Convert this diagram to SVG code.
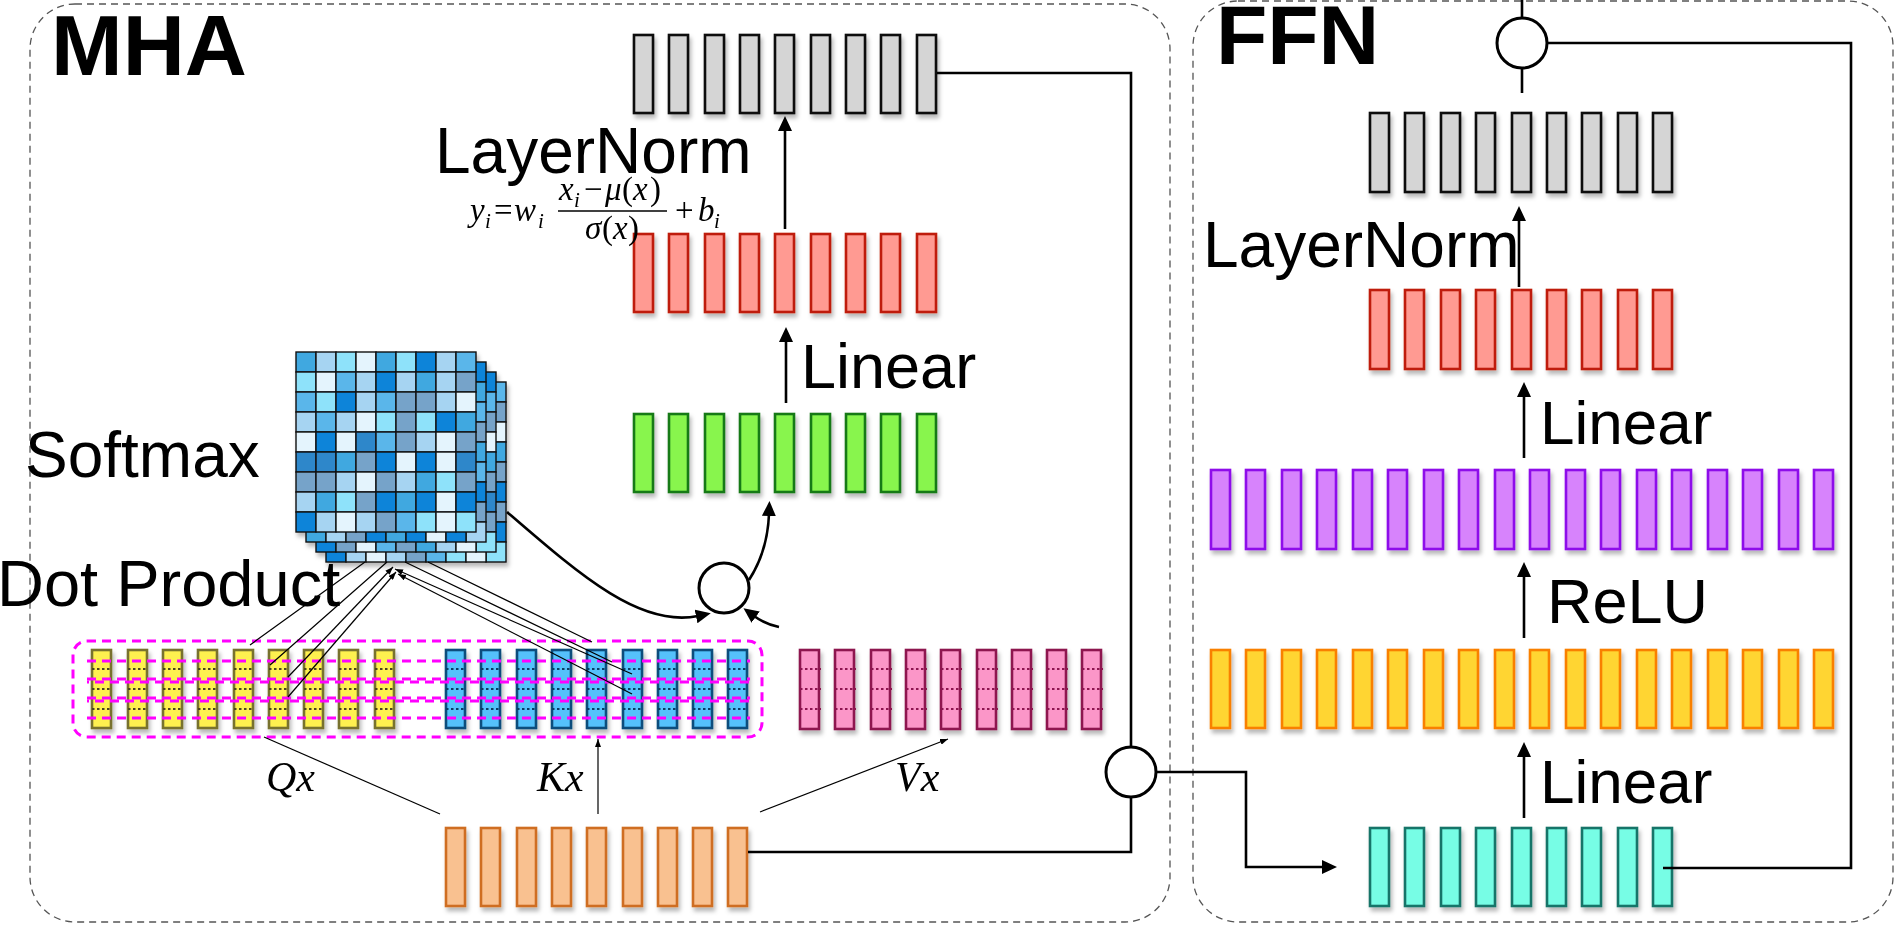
<svg xmlns="http://www.w3.org/2000/svg" xmlns:xlink="http://www.w3.org/1999/xlink" width="1895" height="926" viewBox="0 0 1895 926">
<style>
.box{fill:none;stroke:#555;stroke-width:1.3;stroke-dasharray:7 5}
.lbl{font-family:"Liberation Sans",Arial,sans-serif;fill:#000}
.big{font-family:"Liberation Sans",Arial,sans-serif;font-weight:bold;fill:#000}
.mth{font-family:"Liberation Serif","Times New Roman",serif;font-style:italic;fill:#000;font-size:33px}
.sub{font-size:21px}
.up{font-style:normal}
.bar rect{stroke-width:2.6}
.gray rect{fill:#D5D5D5;stroke:#111}
.red rect{fill:#FF9A92;stroke:#BF1E0B}
.green rect{fill:#88F54E;stroke:#147A14}
.qy rect{fill:#FEF04F;stroke:#78722E}
.kb rect{fill:#55C1FB;stroke:#0C4E7C}
.vp rect{fill:#FB96C8;stroke:#8E1550}
.org rect{fill:#F9C190;stroke:#CF6E24}
.teal rect{fill:#77FDE5;stroke:#197469}
.pur rect{fill:#D783FC;stroke:#8E0FEA}
.amb rect{fill:#FFD530;stroke:#F98000}
.dots{fill:none;stroke-width:2.2;stroke-dasharray:2.5 2.5}
.mag{fill:none;stroke:#FF00FF;stroke-width:3;stroke-dasharray:9 6}
.ln{fill:none;stroke:#000;stroke-width:2.6}
.thin{fill:none;stroke:#000;stroke-width:1.2}
.circ{fill:#fff;stroke:#000;stroke-width:3}
.A{fill:#0A84D9}.B{fill:#3FA8E0}.C{fill:#5AB6EA}.D{fill:#8EE2FA}.E{fill:#A6D4F2}.F{fill:#E4F4FD}.G{fill:#76A3C9}.H{fill:#2E87CA}
.mx use{stroke:#111;stroke-width:1.4}
</style>
<defs>
<filter id="sh" x="-10%" y="-10%" width="130%" height="130%"><feDropShadow dx="2" dy="4" stdDeviation="2.2" flood-color="#000" flood-opacity="0.28"/></filter>
<marker id="ah" viewBox="0 0 15 14" refX="2" refY="7" markerWidth="15" markerHeight="14" markerUnits="userSpaceOnUse" orient="auto"><path d="M0,0 L15,7 L0,14 z" fill="#000"/></marker>
<marker id="sa" viewBox="0 0 8 6" refX="8" refY="3" markerWidth="8" markerHeight="6" markerUnits="userSpaceOnUse" orient="auto"><path d="M0,0 L8,3 L0,6 z" fill="#000"/></marker>
<rect id="cell" width="20" height="20"/>
</defs>

<g id="mha-box"><rect class="box" x="30" y="4" width="1140" height="918" rx="45"/></g>
<g id="ffn-box"><rect class="box" x="1193" y="1" width="700" height="921" rx="45"/></g>

<g id="titles">
<text class="big" x="51" y="75" font-size="86">MHA</text>
<text class="big" x="1216" y="64" font-size="84">FFN</text>
</g>

<!-- MHA vector rows -->
<g id="mha-out" class="bar gray" filter="url(#sh)">
<rect x="634" y="35" width="19" height="78"/><rect x="669" y="35" width="19" height="78"/><rect x="705" y="35" width="19" height="78"/><rect x="740" y="35" width="19" height="78"/><rect x="775" y="35" width="19" height="78"/><rect x="811" y="35" width="19" height="78"/><rect x="846" y="35" width="19" height="78"/><rect x="881" y="35" width="19" height="78"/><rect x="917" y="35" width="19" height="78"/>
</g>
<g id="mha-linear-out" class="bar red" filter="url(#sh)">
<rect x="634" y="234" width="19" height="78"/><rect x="669" y="234" width="19" height="78"/><rect x="705" y="234" width="19" height="78"/><rect x="740" y="234" width="19" height="78"/><rect x="775" y="234" width="19" height="78"/><rect x="811" y="234" width="19" height="78"/><rect x="846" y="234" width="19" height="78"/><rect x="881" y="234" width="19" height="78"/><rect x="917" y="234" width="19" height="78"/>
</g>
<g id="mha-attn-out" class="bar green" filter="url(#sh)">
<rect x="634" y="414" width="19" height="78"/><rect x="669" y="414" width="19" height="78"/><rect x="705" y="414" width="19" height="78"/><rect x="740" y="414" width="19" height="78"/><rect x="775" y="414" width="19" height="78"/><rect x="811" y="414" width="19" height="78"/><rect x="846" y="414" width="19" height="78"/><rect x="881" y="414" width="19" height="78"/><rect x="917" y="414" width="19" height="78"/>
</g>

<g id="q-vectors" class="bar qy" filter="url(#sh)">
<rect x="92" y="650" width="19" height="78"/><rect x="128" y="650" width="19" height="78"/><rect x="163" y="650" width="19" height="78"/><rect x="198" y="650" width="19" height="78"/><rect x="234" y="650" width="19" height="78"/><rect x="269" y="650" width="19" height="78"/><rect x="304" y="650" width="19" height="78"/><rect x="339" y="650" width="19" height="78"/><rect x="375" y="650" width="19" height="78"/>
</g>
<g id="k-vectors" class="bar kb" filter="url(#sh)">
<rect x="446" y="650" width="19" height="78"/><rect x="481" y="650" width="19" height="78"/><rect x="517" y="650" width="19" height="78"/><rect x="552" y="650" width="19" height="78"/><rect x="587" y="650" width="19" height="78"/><rect x="623" y="650" width="19" height="78"/><rect x="658" y="650" width="19" height="78"/><rect x="693" y="650" width="19" height="78"/><rect x="728" y="650" width="19" height="78"/>
</g>
<g id="v-vectors" class="bar vp" filter="url(#sh)">
<rect x="800" y="650" width="19" height="79"/><rect x="835" y="650" width="19" height="79"/><rect x="871" y="650" width="19" height="79"/><rect x="906" y="650" width="19" height="79"/><rect x="941" y="650" width="19" height="79"/><rect x="977" y="650" width="19" height="79"/><rect x="1012" y="650" width="19" height="79"/><rect x="1047" y="650" width="19" height="79"/><rect x="1082" y="650" width="19" height="79"/>
</g>
<g id="qkv-dots">
<path class="dots" stroke="#4a4620" d="M92 669h20M128 669h20M163 669h20M198 669h20M234 669h20M269 669h20M304 669h20M339 669h20M375 669h20M92 689h20M128 689h20M163 689h20M198 689h20M234 689h20M269 689h20M304 689h20M339 689h20M375 689h20M92 709h20M128 709h20M163 709h20M198 709h20M234 709h20M269 709h20M304 709h20M339 709h20M375 709h20"/>
<path class="dots" stroke="#0C3E64" d="M446 669h20M481 669h20M517 669h20M552 669h20M587 669h20M623 669h20M658 669h20M693 669h20M728 669h20M446 689h20M481 689h20M517 689h20M552 689h20M587 689h20M623 689h20M658 689h20M693 689h20M728 689h20M446 709h20M481 709h20M517 709h20M552 709h20M587 709h20M623 709h20M658 709h20M693 709h20M728 709h20"/>
<path class="dots" stroke="#8E1550" d="M800 669h21M835 669h21M871 669h21M906 669h21M941 669h21M977 669h21M1012 669h21M1047 669h21M1082 669h21M800 689h21M835 689h21M871 689h21M906 689h21M941 689h21M977 689h21M1012 689h21M1047 689h21M1082 689h21M800 709h21M835 709h21M871 709h21M906 709h21M941 709h21M977 709h21M1012 709h21M1047 709h21M1082 709h21"/>
</g>
<g id="qk-group">
<rect class="mag" x="73" y="641" width="689" height="96" rx="14"/>
<path class="mag" d="M87 661H750M87 718H750M87 679H750M87 698H750"/>
<path class="mag" stroke-dashoffset="7" d="M87 682H750M87 701H750"/>
</g>

<g id="input-x" class="bar org" filter="url(#sh)">
<rect x="446" y="828" width="19" height="78"/><rect x="481" y="828" width="19" height="78"/><rect x="517" y="828" width="19" height="78"/><rect x="552" y="828" width="19" height="78"/><rect x="587" y="828" width="19" height="78"/><rect x="623" y="828" width="19" height="78"/><rect x="658" y="828" width="19" height="78"/><rect x="693" y="828" width="19" height="78"/><rect x="728" y="828" width="19" height="78"/>
</g>

<!-- Softmax attention matrices -->
<g id="softmax-matrix" class="mx" filter="url(#sh)">
<use href="#cell" class="C" x="486" y="382"/><use href="#cell" class="G" x="486" y="402"/><use href="#cell" class="F" x="486" y="422"/><use href="#cell" class="B" x="486" y="442"/><use href="#cell" class="G" x="486" y="462"/><use href="#cell" class="A" x="486" y="482"/><use href="#cell" class="G" x="486" y="502"/><use href="#cell" class="A" x="486" y="522"/><use href="#cell" class="D" x="486" y="542"/>
<use href="#cell" class="A" x="326" y="542"/><use href="#cell" class="E" x="346" y="542"/><use href="#cell" class="F" x="366" y="542"/><use href="#cell" class="E" x="386" y="542"/><use href="#cell" class="G" x="406" y="542"/><use href="#cell" class="C" x="426" y="542"/><use href="#cell" class="D" x="446" y="542"/><use href="#cell" class="F" x="466" y="542"/>
<use href="#cell" class="A" x="476" y="372"/><use href="#cell" class="C" x="476" y="392"/><use href="#cell" class="G" x="476" y="412"/><use href="#cell" class="F" x="476" y="432"/><use href="#cell" class="B" x="476" y="452"/><use href="#cell" class="G" x="476" y="472"/><use href="#cell" class="H" x="476" y="492"/><use href="#cell" class="G" x="476" y="512"/><use href="#cell" class="D" x="476" y="532"/>
<use href="#cell" class="A" x="316" y="532"/><use href="#cell" class="G" x="336" y="532"/><use href="#cell" class="F" x="356" y="532"/><use href="#cell" class="C" x="376" y="532"/><use href="#cell" class="G" x="396" y="532"/><use href="#cell" class="B" x="416" y="532"/><use href="#cell" class="E" x="436" y="532"/><use href="#cell" class="F" x="456" y="532"/>
<use href="#cell" class="A" x="466" y="362"/><use href="#cell" class="B" x="466" y="382"/><use href="#cell" class="C" x="466" y="402"/><use href="#cell" class="G" x="466" y="422"/><use href="#cell" class="B" x="466" y="442"/><use href="#cell" class="C" x="466" y="462"/><use href="#cell" class="A" x="466" y="482"/><use href="#cell" class="G" x="466" y="502"/><use href="#cell" class="E" x="466" y="522"/>
<use href="#cell" class="B" x="306" y="522"/><use href="#cell" class="E" x="326" y="522"/><use href="#cell" class="G" x="346" y="522"/><use href="#cell" class="A" x="366" y="522"/><use href="#cell" class="B" x="386" y="522"/><use href="#cell" class="A" x="406" y="522"/><use href="#cell" class="F" x="426" y="522"/><use href="#cell" class="A" x="446" y="522"/>
<use href="#cell" class="B" x="296" y="352"/><use href="#cell" class="E" x="316" y="352"/><use href="#cell" class="D" x="336" y="352"/><use href="#cell" class="F" x="356" y="352"/><use href="#cell" class="B" x="376" y="352"/><use href="#cell" class="D" x="396" y="352"/><use href="#cell" class="A" x="416" y="352"/><use href="#cell" class="E" x="436" y="352"/><use href="#cell" class="C" x="456" y="352"/>
<use href="#cell" class="D" x="296" y="372"/><use href="#cell" class="F" x="316" y="372"/><use href="#cell" class="C" x="336" y="372"/><use href="#cell" class="E" x="356" y="372"/><use href="#cell" class="A" x="376" y="372"/><use href="#cell" class="E" x="396" y="372"/><use href="#cell" class="B" x="416" y="372"/><use href="#cell" class="E" x="436" y="372"/><use href="#cell" class="G" x="456" y="372"/>
<use href="#cell" class="C" x="296" y="392"/><use href="#cell" class="D" x="316" y="392"/><use href="#cell" class="A" x="336" y="392"/><use href="#cell" class="E" x="356" y="392"/><use href="#cell" class="C" x="376" y="392"/><use href="#cell" class="G" x="396" y="392"/><use href="#cell" class="G" x="416" y="392"/><use href="#cell" class="E" x="436" y="392"/><use href="#cell" class="F" x="456" y="392"/>
<use href="#cell" class="E" x="296" y="412"/><use href="#cell" class="C" x="316" y="412"/><use href="#cell" class="E" x="336" y="412"/><use href="#cell" class="F" x="356" y="412"/><use href="#cell" class="D" x="376" y="412"/><use href="#cell" class="G" x="396" y="412"/><use href="#cell" class="D" x="416" y="412"/><use href="#cell" class="A" x="436" y="412"/><use href="#cell" class="B" x="456" y="412"/>
<use href="#cell" class="F" x="296" y="432"/><use href="#cell" class="A" x="316" y="432"/><use href="#cell" class="F" x="336" y="432"/><use href="#cell" class="H" x="356" y="432"/><use href="#cell" class="C" x="376" y="432"/><use href="#cell" class="G" x="396" y="432"/><use href="#cell" class="E" x="416" y="432"/><use href="#cell" class="F" x="436" y="432"/><use href="#cell" class="G" x="456" y="432"/>
<use href="#cell" class="H" x="296" y="452"/><use href="#cell" class="H" x="316" y="452"/><use href="#cell" class="B" x="336" y="452"/><use href="#cell" class="G" x="356" y="452"/><use href="#cell" class="A" x="376" y="452"/><use href="#cell" class="F" x="396" y="452"/><use href="#cell" class="A" x="416" y="452"/><use href="#cell" class="F" x="436" y="452"/><use href="#cell" class="H" x="456" y="452"/>
<use href="#cell" class="G" x="296" y="472"/><use href="#cell" class="G" x="316" y="472"/><use href="#cell" class="E" x="336" y="472"/><use href="#cell" class="F" x="356" y="472"/><use href="#cell" class="G" x="376" y="472"/><use href="#cell" class="E" x="396" y="472"/><use href="#cell" class="B" x="416" y="472"/><use href="#cell" class="D" x="436" y="472"/><use href="#cell" class="G" x="456" y="472"/>
<use href="#cell" class="E" x="296" y="492"/><use href="#cell" class="B" x="316" y="492"/><use href="#cell" class="D" x="336" y="492"/><use href="#cell" class="G" x="356" y="492"/><use href="#cell" class="A" x="376" y="492"/><use href="#cell" class="B" x="396" y="492"/><use href="#cell" class="A" x="416" y="492"/><use href="#cell" class="F" x="436" y="492"/><use href="#cell" class="A" x="456" y="492"/>
<use href="#cell" class="A" x="296" y="512"/><use href="#cell" class="E" x="316" y="512"/><use href="#cell" class="F" x="336" y="512"/><use href="#cell" class="E" x="356" y="512"/><use href="#cell" class="G" x="376" y="512"/><use href="#cell" class="C" x="396" y="512"/><use href="#cell" class="D" x="416" y="512"/><use href="#cell" class="F" x="436" y="512"/><use href="#cell" class="D" x="456" y="512"/>
</g>

<!-- FFN rows -->
<g id="ffn-out" class="bar gray" filter="url(#sh)">
<rect x="1370" y="113" width="19" height="79"/><rect x="1405" y="113" width="19" height="79"/><rect x="1441" y="113" width="19" height="79"/><rect x="1476" y="113" width="19" height="79"/><rect x="1512" y="113" width="19" height="79"/><rect x="1547" y="113" width="19" height="79"/><rect x="1582" y="113" width="19" height="79"/><rect x="1618" y="113" width="19" height="79"/><rect x="1653" y="113" width="19" height="79"/>
</g>
<g id="ffn-linear2" class="bar red" filter="url(#sh)">
<rect x="1370" y="290" width="19" height="79"/><rect x="1405" y="290" width="19" height="79"/><rect x="1441" y="290" width="19" height="79"/><rect x="1476" y="290" width="19" height="79"/><rect x="1512" y="290" width="19" height="79"/><rect x="1547" y="290" width="19" height="79"/><rect x="1582" y="290" width="19" height="79"/><rect x="1618" y="290" width="19" height="79"/><rect x="1653" y="290" width="19" height="79"/>
</g>
<g id="ffn-relu" class="bar pur" filter="url(#sh)">
<rect x="1211" y="470" width="19" height="79"/><rect x="1246" y="470" width="19" height="79"/><rect x="1282" y="470" width="19" height="79"/><rect x="1317" y="470" width="19" height="79"/><rect x="1353" y="470" width="19" height="79"/><rect x="1388" y="470" width="19" height="79"/><rect x="1424" y="470" width="19" height="79"/><rect x="1459" y="470" width="19" height="79"/><rect x="1495" y="470" width="19" height="79"/><rect x="1530" y="470" width="19" height="79"/><rect x="1566" y="470" width="19" height="79"/><rect x="1601" y="470" width="19" height="79"/><rect x="1637" y="470" width="19" height="79"/><rect x="1672" y="470" width="19" height="79"/><rect x="1708" y="470" width="19" height="79"/><rect x="1743" y="470" width="19" height="79"/><rect x="1779" y="470" width="19" height="79"/><rect x="1814" y="470" width="19" height="79"/>
</g>
<g id="ffn-linear1" class="bar amb" filter="url(#sh)">
<rect x="1211" y="650" width="19" height="78"/><rect x="1246" y="650" width="19" height="78"/><rect x="1282" y="650" width="19" height="78"/><rect x="1317" y="650" width="19" height="78"/><rect x="1353" y="650" width="19" height="78"/><rect x="1388" y="650" width="19" height="78"/><rect x="1424" y="650" width="19" height="78"/><rect x="1459" y="650" width="19" height="78"/><rect x="1495" y="650" width="19" height="78"/><rect x="1530" y="650" width="19" height="78"/><rect x="1566" y="650" width="19" height="78"/><rect x="1601" y="650" width="19" height="78"/><rect x="1637" y="650" width="19" height="78"/><rect x="1672" y="650" width="19" height="78"/><rect x="1708" y="650" width="19" height="78"/><rect x="1743" y="650" width="19" height="78"/><rect x="1779" y="650" width="19" height="78"/><rect x="1814" y="650" width="19" height="78"/>
</g>
<g id="ffn-in" class="bar teal" filter="url(#sh)">
<rect x="1370" y="828" width="19" height="78"/><rect x="1405" y="828" width="19" height="78"/><rect x="1441" y="828" width="19" height="78"/><rect x="1476" y="828" width="19" height="78"/><rect x="1512" y="828" width="19" height="78"/><rect x="1547" y="828" width="19" height="78"/><rect x="1582" y="828" width="19" height="78"/><rect x="1618" y="828" width="19" height="78"/><rect x="1653" y="828" width="19" height="78"/>
</g>

<!-- connectors -->
<g id="connectors">
<path class="ln" d="M937 73H1131V747"/>
<path class="ln" d="M1131 797V852H748"/>
<path class="ln" d="M1156 772H1246V867H1324" marker-end="url(#ah)"/>
<path class="ln" d="M1663 868H1851V43H1547"/>
<path class="ln" d="M1522 0V18M1522 68V93"/>
<path class="ln" d="M785 229V129" marker-end="url(#ah)"/>
<path class="ln" d="M786 403V340" marker-end="url(#ah)"/>
<path class="ln" d="M1519 287V219" marker-end="url(#ah)"/>
<path class="ln" d="M1524 458V395" marker-end="url(#ah)"/>
<path class="ln" d="M1524 638V575" marker-end="url(#ah)"/>
<path class="ln" d="M1524 818V755" marker-end="url(#ah)"/>
<path class="ln" d="M507 512C580 575 640 628 698 616" marker-end="url(#ah)"/>
<path class="ln" d="M779 627Q765 624 754 616" marker-end="url(#ah)"/>
<path class="ln" d="M749 580C762 560 768 540 769 514" marker-end="url(#ah)"/>
<path class="thin" d="M365 562L250 645M387 562L270 665M428 562L592 642M405 562L612 662"/>
<path class="thin" d="M288 677L393 567" marker-end="url(#sa)"/>
<path class="thin" d="M288 697L396 572" marker-end="url(#sa)"/>
<path class="thin" d="M632 674L395 569" marker-end="url(#sa)"/>
<path class="thin" d="M632 694L398 574" marker-end="url(#sa)"/>
<path class="thin" d="M440 814L264 737"/>
<path class="thin" d="M598 814V739" marker-end="url(#sa)"/>
<path class="thin" d="M760 812L948 739" marker-end="url(#sa)"/>
</g>

<g id="add-attn"><circle class="circ" cx="724" cy="588" r="25"/></g>
<g id="add-mha"><circle class="circ" cx="1131" cy="772" r="25"/></g>
<g id="add-ffn"><circle class="circ" cx="1522" cy="43" r="25"/></g>

<g id="labels">
<text class="lbl" x="435" y="173" font-size="64">LayerNorm</text>
<text class="lbl" x="801" y="388" font-size="63">Linear</text>
<text class="lbl" x="25" y="477" font-size="64">Softmax</text>
<text class="lbl" x="-3" y="606" font-size="65">Dot Product</text>
<text class="lbl" x="1203" y="267" font-size="64">LayerNorm</text>
<text class="lbl" x="1540" y="444" font-size="62">Linear</text>
<text class="lbl" x="1547" y="623" font-size="63">ReLU</text>
<text class="lbl" x="1540" y="803" font-size="62">Linear</text>
<text class="mth" x="266" y="791" style="font-size:42px">Qx</text>
<text class="mth" x="537" y="791" style="font-size:42px">Kx</text>
<text class="mth" x="895" y="791" style="font-size:42px">Vx</text>
</g>

<g id="layernorm-formula">
<text class="mth"><tspan x="470" y="221">y</tspan><tspan class="sub" x="485" y="228">i</tspan><tspan class="up" x="494" y="221">=</tspan><tspan x="514" y="221">w</tspan><tspan class="sub" x="538" y="228">i</tspan></text>
<text class="mth"><tspan x="559" y="200">x</tspan><tspan class="sub" x="574" y="207">i</tspan><tspan class="up" x="584" y="200">−</tspan><tspan x="605" y="200">μ</tspan><tspan class="up" x="622" y="200">(</tspan><tspan x="633" y="200">x</tspan><tspan class="up" x="650" y="200">)</tspan></text>
<line x1="558" y1="211" x2="667" y2="211" stroke="#000" stroke-width="1.5"/>
<text class="mth"><tspan x="585" y="239">σ</tspan><tspan class="up" x="602" y="239">(</tspan><tspan x="613" y="239">x</tspan><tspan class="up" x="628" y="239">)</tspan></text>
<text class="mth"><tspan class="up" x="675" y="221">+</tspan><tspan x="698" y="221">b</tspan><tspan class="sub" x="714" y="228">i</tspan></text>
</g>
</svg>
